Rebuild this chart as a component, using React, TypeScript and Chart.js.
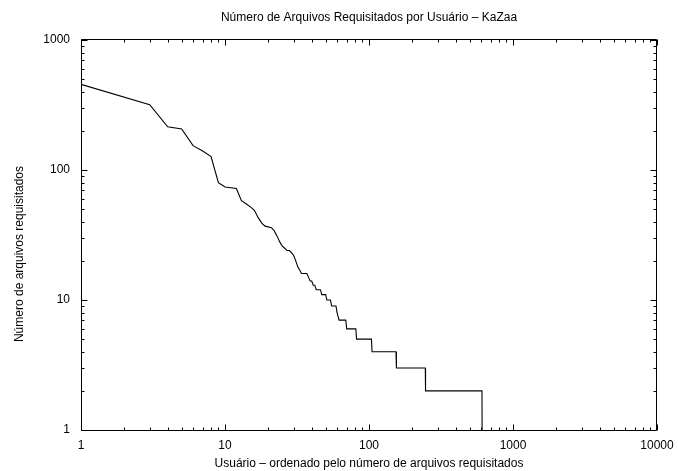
import React, { useEffect, useRef } from "react";
import { Chart, registerables } from "chart.js";

Chart.register(...registerables);

// User rank (x) and number of requested files (y), breakpoints
const ranks: number[] = [
  1, 3, 4, 5, 6, 7, 8, 9, 10, 12, 13, 14, 15, 16, 17, 18, 19, 21, 22, 23, 24, 25,
  26, 27, 28, 29, 30, 31, 32, 33, 34, 37, 38, 39, 40, 41, 42, 43, 46, 47, 50, 51,
  54, 55, 59, 60, 62, 69, 70, 81, 82, 104, 105, 154, 155, 246, 247, 609, 610,
];
const counts: number[] = [
  456, 318, 215, 207, 154, 140, 127, 80, 74, 72, 58, 55, 52, 49, 43, 39, 37, 36, 34, 31, 28, 26,
  25, 24, 24, 23, 22, 20, 18, 17, 16, 16, 15, 14, 14, 13, 13, 12, 12, 11, 11, 10,
  10, 9, 9, 8, 7, 7, 6, 6, 5, 5, 4, 4, 3, 3, 2, 2, 1,
];

const xTickLabels: number[] = [1, 10, 100, 1000, 10000];
const yTickLabels: number[] = [1, 10, 100, 1000];

const titleText = "Número de Arquivos Requisitados por Usuário – KaZaa";
const xTitle = "Usuário – ordenado pelo número de arquivos requisitados";
const yTitle = "Número de arquivos requisitados";

const FONT = "'Liberation Sans', Arial, Helvetica, sans-serif";

function logTickValues(min: number, max: number): number[] {
  const out: number[] = [];
  for (let e = Math.floor(Math.log10(min)); e <= Math.ceil(Math.log10(max)); e++) {
    for (let s = 1; s <= 9; s++) {
      const v = s * Math.pow(10, e);
      if (v >= min - 1e-9 && v <= max + 1e-9) out.push(v);
    }
  }
  return out;
}

const isPow10 = (v: number) => {
  const l = Math.log10(v);
  return Math.abs(l - Math.round(l)) < 1e-9;
};

const framePlugin = {
  id: "gnuplotFrame",
  afterDraw(chart: any) {
    const { ctx, chartArea } = chart;
    const { left, right, top, bottom } = chartArea;
    const xs = chart.scales.x;
    const ys = chart.scales.y;
    ctx.save();
    ctx.strokeStyle = "#000";
    ctx.lineWidth = 1;
    const L = left + 0.5, R = right - 0.5, T = top - 0.5, B = bottom + 0.5;
    ctx.beginPath();
    ctx.moveTo(L, T); ctx.lineTo(R, T); ctx.lineTo(R, B); ctx.lineTo(L, B); ctx.closePath();
    ctx.stroke();
    ctx.beginPath();
    for (const v of logTickValues(xs.min, xs.max)) {
      const px = Math.round(xs.getPixelForValue(v)) + 0.5;
      const len = isPow10(v) ? 6 : 3;
      ctx.moveTo(px, B); ctx.lineTo(px, B - len);
      ctx.moveTo(px, T); ctx.lineTo(px, T + len);
    }
    for (const v of logTickValues(ys.min, ys.max)) {
      const py = Math.round(ys.getPixelForValue(v)) + 0.5;
      const len = isPow10(v) ? 6 : 3;
      ctx.moveTo(L, py); ctx.lineTo(L + len, py);
      ctx.moveTo(R, py); ctx.lineTo(R - len, py);
    }
    ctx.stroke();

    ctx.fillStyle = "#000";
    ctx.font = `12px ${FONT}`;
    ctx.textAlign = "center";
    ctx.textBaseline = "middle";
    ctx.fillText(titleText, (left + right) / 2, 18);
    ctx.translate(20, 254);
    ctx.rotate(-Math.PI / 2);
    ctx.fillText(yTitle, 0, 0);
    ctx.restore();
  },
};

export default function App() {
  const ref = useRef<HTMLCanvasElement | null>(null);
  useEffect(() => {
    document.body.style.margin = "0";
    const canvas = ref.current;
    if (!canvas) return;
    const points = ranks.map((r, i) => ({ x: r, y: counts[i] }));
    const chart = new Chart(canvas, {
      type: "scatter",
      data: {
        datasets: [
          {
            data: points,
            showLine: true,
            borderColor: "#000",
            borderWidth: 1.1,
            pointRadius: 0,
            tension: 0,
            fill: false,
          },
        ],
      },
      options: {
        responsive: false,
        animation: false,
        devicePixelRatio: 1,
        layout: { padding: { left: 0, right: 21, top: 40, bottom: 0 } },
        plugins: {
          legend: { display: false },
          tooltip: { enabled: false },
          title: { display: false },
        },
        scales: {
          x: {
            type: "logarithmic",
            min: 1,
            max: 10000,
            grid: { display: false, drawTicks: false },
            border: { display: false },
            afterBuildTicks: (scale: any) => {
              scale.ticks = xTickLabels.map((v) => ({ value: v }));
            },
            ticks: {
              autoSkip: false,
              maxRotation: 0,
              minRotation: 0,
              padding: 8,
              color: "#000",
              font: { family: FONT, size: 12 },
              callback: (v: any) => String(v),
            },
            title: {
              display: true,
              text: xTitle,
              color: "#000",
              font: { family: FONT, size: 12 },
              padding: { top: 0, bottom: 0 },
            },
            afterFit: (scale: any) => {
              scale.height = 41;
              scale.paddingLeft = 0;
              scale.paddingRight = 0;
            },
          },
          y: {
            type: "logarithmic",
            min: 1,
            max: 1000,
            grid: { display: false, drawTicks: false },
            border: { display: false },
            afterBuildTicks: (scale: any) => {
              scale.ticks = yTickLabels.map((v) => ({ value: v }));
            },
            ticks: {
              autoSkip: false,
              padding: 11,
              color: "#000",
              font: { family: FONT, size: 12 },
              callback: (v: any) => String(v),
            },
            afterFit: (scale: any) => {
              scale.width = 81;
              scale.paddingTop = 0;
              scale.paddingBottom = 0;
            },
          },
        },
      },
      plugins: [framePlugin],
    });
    return () => chart.destroy();
  }, []);

  return (
    <div style={{ position: "absolute", left: 0, top: 0, width: 678, height: 471, background: "#fff" }}>
      <canvas ref={ref} width={678} height={471} />
    </div>
  );
}
